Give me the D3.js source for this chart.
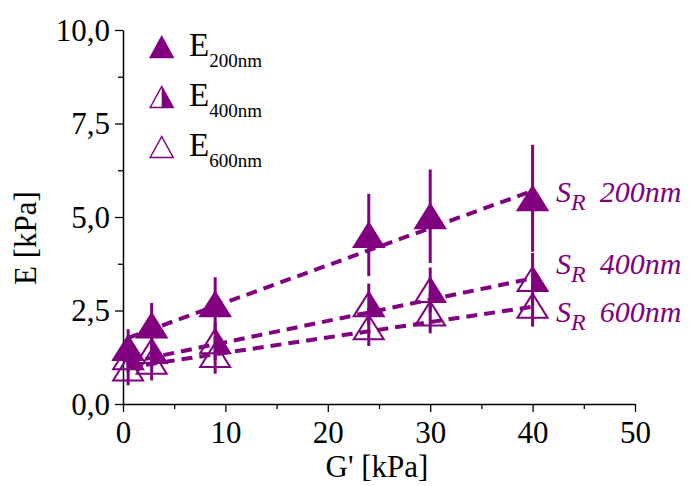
<!DOCTYPE html>
<html>
<head>
<meta charset="utf-8">
<script src="https://cdn.jsdelivr.net/npm/d3@7"></script>
<style>
  html, body { margin: 0; padding: 0; background: #fff; }
  svg { display: block; }
  text { font-family: "Liberation Serif", "Times New Roman", serif; }
</style>
</head>
<body>
<svg id="chart" width="691" height="486"></svg>
<script>
// ---- data ----
const gPrime   = [0.5, 2.8, 9, 24, 30, 40];
const e200     = [1.50, 2.10, 2.67, 4.52, 5.02, 5.50];
const e200Err  = [0.50, 0.60, 0.72, 1.10, 1.25, 1.43];
const e400     = [1.25, 1.42, 1.68, 2.67, 3.05, 3.34];
const e400Err  = [0.40, 0.45, 0.50, 0.55, 0.60, 0.70];
const e600     = [0.95, 1.13, 1.31, 2.05, 2.42, 2.63];
const e600Err  = [0.45, 0.50, 0.50, 0.50, 0.53, 0.56];
// linear fit end points [G', E]
const fit200 = [[0.5, 1.77], [40, 5.70]];
const fit400 = [[0.5, 1.11], [40, 3.36]];
const fit600 = [[0.5, 0.98], [40, 2.60]];
const xTicks = [0, 10, 20, 30, 40, 50];
const xMinor = [5, 15, 25, 35, 45];
const yTicks = [0, 2.5, 5, 7.5, 10];
const yMinor = [1.25, 3.75, 6.25, 8.75];
const seriesNames = ["200nm", "400nm", "600nm"];
const fitLabels = ["200nm", "400nm", "600nm"];

const purple = "#800080";
const svg = d3.select("#chart");
const x = d3.scaleLinear().domain([0, 50]).range([123, 635]);
const y = d3.scaleLinear().domain([0, 10]).range([404, 30]);

// ---- axes ----
const fmt = v => d3.format(".1f")(v).replace(".", ",");
const xAxis = svg.append("g").attr("transform", "translate(0,404)")
  .call(d3.axisBottom(x).tickValues(xTicks).tickSize(8).tickSizeOuter(0).tickFormat(d3.format("d")));
const xMin = svg.append("g").attr("transform", "translate(0,404)")
  .call(d3.axisBottom(x).tickValues(xMinor).tickSize(5).tickSizeOuter(0).tickFormat(""));
xMin.select(".domain").remove();
const yAxis = svg.append("g").attr("transform", "translate(123,0)")
  .call(d3.axisLeft(y).tickValues(yTicks).tickSize(8).tickSizeOuter(0).tickFormat(fmt));
const yMin = svg.append("g").attr("transform", "translate(123,0)")
  .call(d3.axisLeft(y).tickValues(yMinor).tickSize(5).tickSizeOuter(0).tickFormat(""));
yMin.select(".domain").remove();
svg.selectAll(".domain").attr("stroke", "#000").attr("stroke-width", 1.5);
svg.selectAll(".tick line").attr("stroke", "#000").attr("stroke-width", 1.3);
xAxis.selectAll("text").attr("y", 39).attr("dy", null)
  .attr("font-size", 31).attr("font-family", "Liberation Serif").attr("fill", "#000");
yAxis.selectAll("text").attr("x", -13).attr("dy", "0.33em")
  .attr("font-size", 31).attr("font-family", "Liberation Serif").attr("fill", "#000");

svg.append("text").attr("x", 377).attr("y", 477).attr("text-anchor", "middle")
  .attr("font-size", 31).text("G' [kPa]");
svg.append("text").attr("transform", "translate(36,238) rotate(-90)")
  .attr("text-anchor", "middle").attr("font-size", 31).text("E [kPa]");

// ---- marker paths ----
function triPath(cx, cy, w, h) {
  return `M${cx - w/2},${cy + h/2}L${cx},${cy - h/2}L${cx + w/2},${cy + h/2}Z`;
}
function rightHalf(cx, cy, w, h) {
  return `M${cx},${cy - h/2}L${cx + w/2},${cy + h/2}L${cx},${cy + h/2}Z`;
}
function drawMarker(g, kind, cx, cy, w, h, sw) {
  if (kind === 0) {
    g.append("path").attr("d", triPath(cx, cy, w, h)).attr("fill", purple)
      .attr("stroke", purple).attr("stroke-width", sw).attr("stroke-linejoin", "miter");
  } else if (kind === 1) {
    g.append("path").attr("d", rightHalf(cx, cy, w, h)).attr("fill", purple);
    g.append("path").attr("d", triPath(cx, cy, w, h)).attr("fill", "none")
      .attr("stroke", purple).attr("stroke-width", sw);
  } else {
    g.append("path").attr("d", triPath(cx, cy, w, h)).attr("fill", "none")
      .attr("stroke", purple).attr("stroke-width", sw);
  }
}

const series = [
  {vals: e200, err: e200Err, fit: fit200},
  {vals: e400, err: e400Err, fit: fit400},
  {vals: e600, err: e600Err, fit: fit600}
];

const plot = svg.append("g");
// markers
series.forEach((s, k) => {
  s.vals.forEach((v, i) => drawMarker(plot, k, x(gPrime[i]), y(v), 30, 24, 2));
});
// error bars
series.forEach(s => {
  plot.append("g").selectAll("line").data(s.vals).join("line")
    .attr("x1", (d, i) => x(gPrime[i])).attr("x2", (d, i) => x(gPrime[i]))
    .attr("y1", (d, i) => y(d + s.err[i])).attr("y2", (d, i) => y(d - s.err[i]))
    .attr("stroke", purple).attr("stroke-width", 3);
});
// fit lines
const line = d3.line().x(d => x(d[0])).y(d => y(d[1]));
series.forEach(s => {
  plot.append("path").attr("d", line(s.fit)).attr("fill", "none")
    .attr("stroke", purple).attr("stroke-width", 4).attr("stroke-dasharray", "11,7");
});

// fit labels
const fitLabelY = [201.7, 274, 322];
fitLabels.forEach((lab, k) => {
  const t = svg.append("text").attr("x", 556).attr("y", fitLabelY[k])
    .attr("fill", purple).attr("font-style", "italic").attr("font-size", 30);
  t.append("tspan").text("S");
  t.append("tspan").attr("font-size", 24).attr("dy", 8).text("R");
  t.append("tspan").attr("dy", -8).attr("dx", 14).text(lab);
});

// legend
const legY = [47, 97, 147];
seriesNames.forEach((name, k) => {
  drawMarker(svg, k, 161.7, legY[k], 23, 21, 1.5);
  const t = svg.append("text").attr("x", 189).attr("y", legY[k] + 9)
    .attr("font-size", 33).attr("fill", "#000");
  t.append("tspan").text("E");
  t.append("tspan").attr("font-size", 19).attr("dy", 11).text(name);
});
</script>
</body>
</html>
